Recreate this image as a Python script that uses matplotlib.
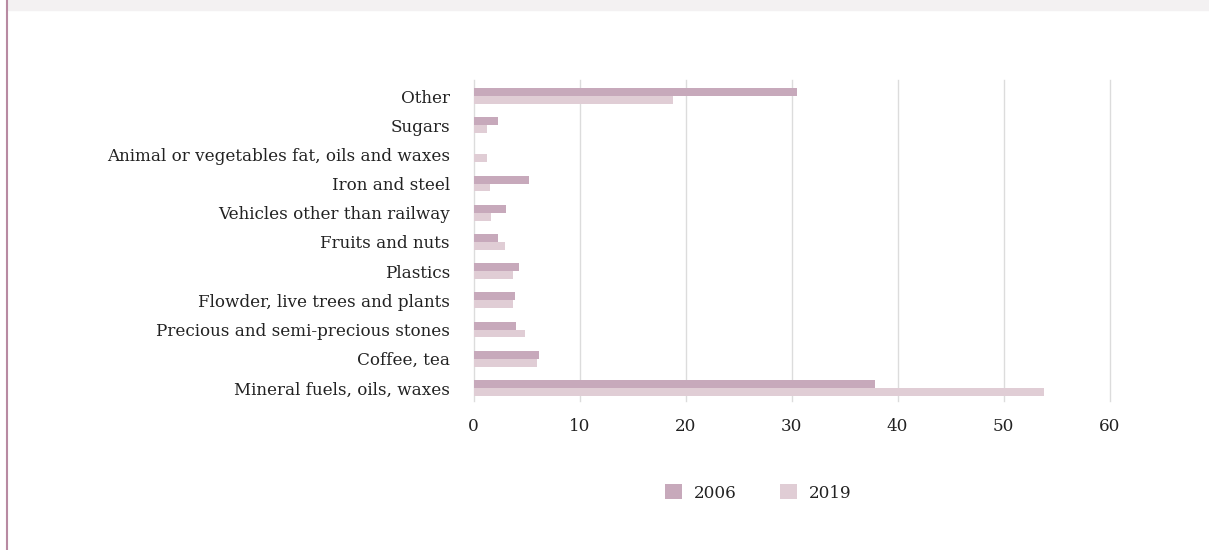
import numpy as np
import matplotlib
matplotlib.use("Agg")
import matplotlib.pyplot as plt
from matplotlib.patches import Rectangle
from matplotlib.lines import Line2D

# categories listed bottom to top
categories = [
    "Mineral fuels, oils, waxes",
    "Coffee, tea",
    "Precious and semi-precious stones",
    "Flowder, live trees and plants",
    "Plastics",
    "Fruits and nuts",
    "Vehicles other than railway",
    "Iron and steel",
    "Animal or vegetables fat, oils and waxes",
    "Sugars",
    "Other",
]
values_2006 = [37.9, 6.15, 4.05, 3.9, 4.3, 2.35, 3.1, 5.2, 0.0, 2.35, 30.5]
values_2019 = [53.85, 6.0, 4.9, 3.75, 3.75, 2.95, 1.65, 1.55, 1.25, 1.25, 18.85]
x_ticks = [0, 10, 20, 30, 40, 50, 60]
series_labels = ["2006", "2019"]

color_2006 = "#c7a9bb"
color_2019 = "#e0cdd5"
text_color = "#222222"
font = "DejaVu Serif"
fsize = 12.1

fig = plt.figure(figsize=(12.09, 5.5), dpi=100)

# cropped title strip at top and the border line on the left
fig.patches.append(Rectangle((8 / 1209, 1 - 10 / 550), 1, 10 / 550,
                             transform=fig.transFigure, color="#f3f1f2", zorder=0))
fig.lines.append(Line2D([6.5 / 1209, 6.5 / 1209], [0, 1], transform=fig.transFigure,
                        color="#b88aa2", linewidth=1.5))

ax = fig.add_axes([473.5 / 1209, 149 / 550, 636 / 1209, 321 / 550])

y = np.arange(len(categories))
h = 0.27
ax.barh(y + h / 2, values_2006, height=h, color=color_2006, label=series_labels[0], zorder=3)
ax.barh(y - h / 2, values_2019, height=h, color=color_2019, label=series_labels[1], zorder=3)

ax.set_xlim(0, 60)
ax.set_ylim(-0.45, 10.55)
ax.set_xticks(x_ticks)
ax.set_yticks(y)
ax.set_yticklabels(categories)
ax.grid(axis="x", color="#dcdcdc", linewidth=1, zorder=0)
for gl in ax.get_xgridlines():
    gl.set_clip_on(False)
for s in ax.spines.values():
    s.set_visible(False)
ax.tick_params(length=0, labelsize=fsize, labelcolor=text_color)
ax.tick_params(axis="y", pad=17)
ax.tick_params(axis="x", pad=12)
for lab in ax.get_xticklabels() + ax.get_yticklabels():
    lab.set_fontfamily(font)

leg = fig.legend(loc="center", bbox_to_anchor=(758 / 1209, 1 - 493 / 550), ncol=2,
                 frameon=False, prop={"family": font, "size": fsize},
                 handlelength=1.0, handleheight=1.0, handletextpad=0.7, columnspacing=2.6)
for t in leg.get_texts():
    t.set_color(text_color)

fig.savefig("out.png", dpi=100, facecolor="white")
